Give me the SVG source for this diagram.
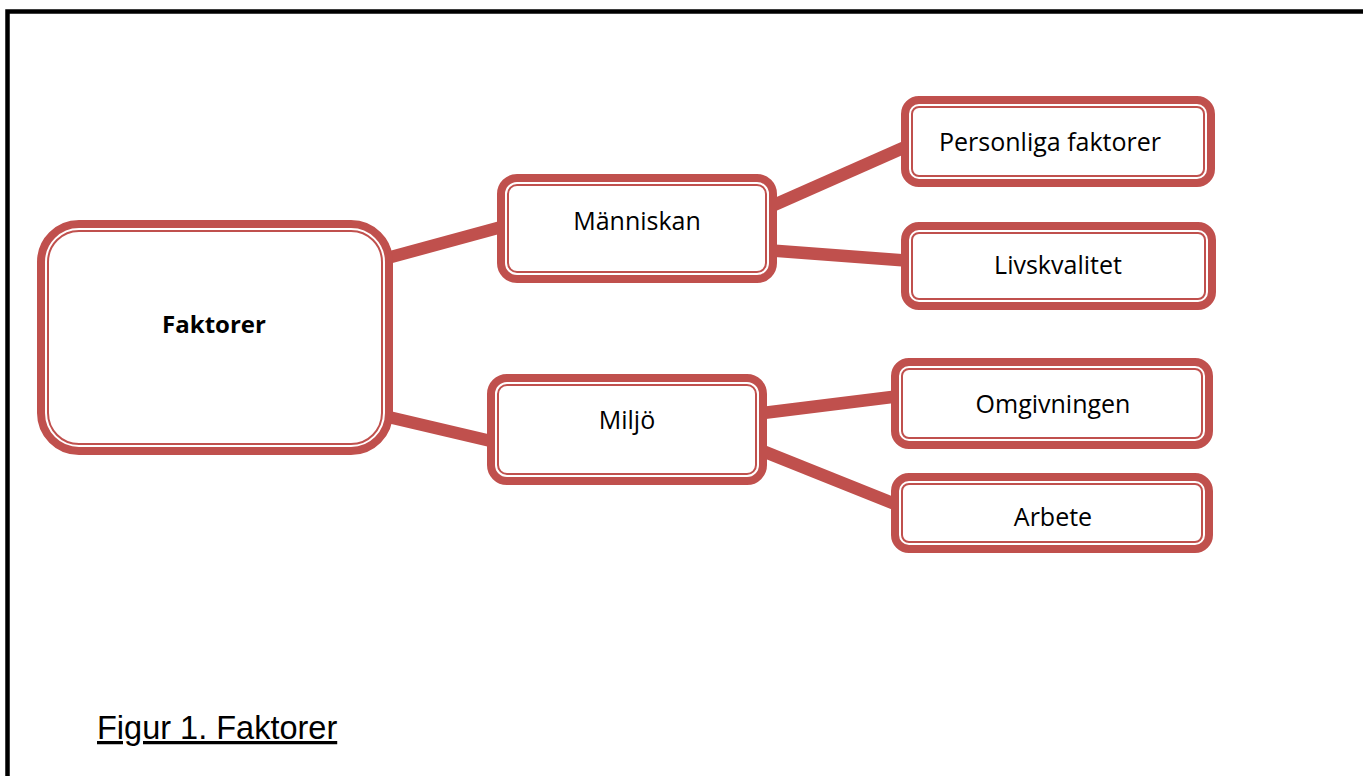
<svg xmlns="http://www.w3.org/2000/svg" width="1363" height="776" viewBox="0 0 1363 776">
<style>
.outer{fill:#fff;stroke:#C0504D;stroke-width:12}
.inner{fill:none;stroke:#fff;stroke-width:2}
.lbl{font-family:"Open Sans","Noto Sans",sans-serif;font-size:25px;fill:#000;text-anchor:middle}
.bold{font-weight:bold;font-size:24px}
.conn{stroke:#C0504D;stroke-width:12.5;stroke-linecap:butt;fill:none}
</style>
<rect x="0" y="0" width="1363" height="776" fill="#fff"/>
<path d="M7.5,776 V11.5 H1363" fill="none" stroke="#000" stroke-width="4.5"/>
<g id="connectors">
<line class="conn" x1="380" y1="260" x2="505" y2="226"/>
<line class="conn" x1="380" y1="415" x2="495" y2="442"/>
<line class="conn" x1="765" y1="209" x2="912" y2="144"/>
<line class="conn" x1="765" y1="250" x2="912" y2="261"/>
<line class="conn" x1="755" y1="414" x2="900" y2="396"/>
<line class="conn" x1="755" y1="448" x2="900" y2="506"/>
</g>
<g id="faktorer">
<rect class="outer" x="43" y="226" width="344" height="223" rx="36"/>
<rect class="inner" x="46" y="229" width="338" height="217" rx="33"/>
<text class="lbl bold" x="214" y="333">Faktorer</text>
</g>
<g id="manniskan">
<rect class="outer" x="503" y="180" width="268" height="97" rx="14"/>
<rect class="inner" x="506" y="183" width="262" height="91" rx="11"/>
<text class="lbl" x="637" y="230">Människan</text>
</g>
<g id="miljo">
<rect class="outer" x="493" y="380" width="268" height="99" rx="14"/>
<rect class="inner" x="496" y="383" width="262" height="93" rx="11"/>
<text class="lbl" x="627" y="429">Miljö</text>
</g>
<g id="personliga">
<rect class="outer" x="907" y="102" width="302" height="79" rx="12"/>
<rect class="inner" x="910" y="105" width="296" height="73" rx="9"/>
<text class="lbl" x="1050" y="151">Personliga faktorer</text>
</g>
<g id="livskvalitet">
<rect class="outer" x="907" y="228" width="303" height="76" rx="12"/>
<rect class="inner" x="910" y="231" width="297" height="70" rx="9"/>
<text class="lbl" x="1058" y="274">Livskvalitet</text>
</g>
<g id="omgivningen">
<rect class="outer" x="897" y="364" width="310" height="79" rx="12"/>
<rect class="inner" x="900" y="367" width="304" height="73" rx="9"/>
<text class="lbl" x="1053" y="413">Omgivningen</text>
</g>
<g id="arbete">
<rect class="outer" x="897" y="479" width="310" height="68" rx="12"/>
<rect class="inner" x="900" y="482" width="304" height="62" rx="9"/>
<text class="lbl" x="1053" y="526">Arbete</text>
</g>
<g id="caption">
<text x="97" y="739" font-family="'Liberation Sans',Arial,sans-serif" font-size="32.5" text-decoration="underline" fill="#000">Figur 1. Faktorer</text>
</g>
</svg>
